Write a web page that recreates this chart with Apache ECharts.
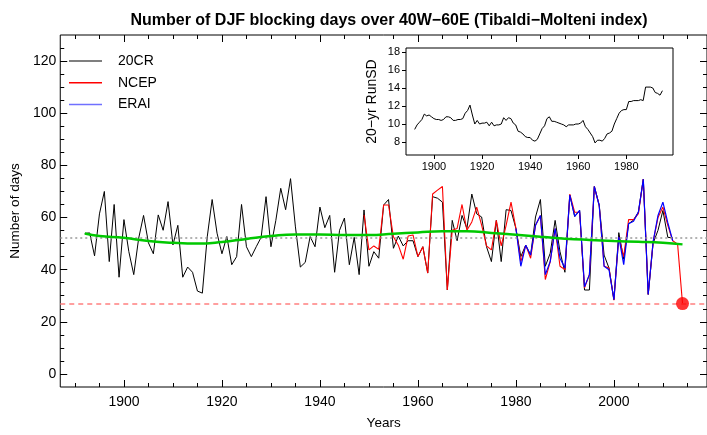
<!DOCTYPE html>
<html><head><meta charset="utf-8">
<script src="https://cdn.jsdelivr.net/npm/echarts@6/dist/echarts.min.js"></script>
<style>html,body{margin:0;padding:0;background:#fff}#c{width:707px;height:435px}</style>
</head><body><div id="c"></div>
<script>
// ---- data ----
const start20CR = 1892;
const v20CR = [
 53.9, 54.1, 45.3, 61.4, 70.0, 43.1, 65.0, 37.1, 59.2, 46.9,
 38.1, 52.0, 60.8, 50.3, 46.1, 61.0, 55.1, 66.1, 49.5, 57.0,
 37.1, 41.0, 39.0, 31.8, 31.0, 52.6, 66.9, 54.0, 46.1, 52.7,
 41.9, 45.0, 65.0, 48.8, 45.0, 48.8, 52.4, 68.0, 48.8, 58.9,
 71.2, 63.0, 74.9, 56.4, 41.0, 42.8, 52.7, 48.8, 64.0, 56.1,
 60.8, 39.0, 55.1, 59.8, 41.9, 52.4, 38.1, 62.9, 41.3, 46.9,
 44.4, 64.8, 66.9, 48.2, 52.9, 49.1, 51.1, 51.1, 45.0, 48.8,
 38.7, 68.0, 67.4, 65.9, 32.2, 58.9, 51.1, 60.8, 55.8, 69.0,
 61.4, 60.2, 48.8, 43.1, 58.9, 43.1, 63.0, 62.7, 55.8, 45.0,
 49.4, 45.6, 60.2, 66.9, 41.3, 46.3, 58.9, 46.9, 39.0, 68.6,
 60.4, 62.7, 32.2, 32.2, 71.9, 64.8, 45.6, 40.6, 28.5, 54.2,
 44.0, 57.6, 59.0, 62.1, 74.7, 30.5, 50.1, 55.1, 62.7, 52.4,
 52.2
];
const startNCEP = 1949;
const vNCEP = [
 61.0, 47.6, 49.1, 47.8, 64.8, 64.8, 52.6, 49.4, 44.0, 52.9,
 53.3, 45.0, 48.8, 38.7, 69.0, 70.5, 71.9, 32.2, 55.1, 55.8,
 65.0, 55.1, 58.3, 64.0, 57.1, 49.1, 47.6, 58.9, 49.1, 57.0,
 65.9, 55.8, 43.1, 49.4, 44.4, 57.0, 60.8, 36.2, 43.1, 55.8,
 41.3, 40.0, 69.0, 62.0, 62.0, 33.0, 38.1, 71.9, 64.6, 41.3,
 40.6, 28.3, 52.6, 45.0, 59.2, 59.2, 61.5, 74.7, 30.5, 50.7,
 60.0, 64.0, 57.0, 51.1, 49.8, 27.0
];
const startERAI = 1980;
const vERAI = [
 55.8, 41.3, 49.4, 45.6, 57.0, 60.8, 38.1, 43.1, 55.8, 44.4,
 40.6, 68.6, 60.4, 62.7, 33.4, 38.1, 71.9, 64.6, 41.3, 40.0,
 28.5, 52.6, 41.9, 57.6, 58.6, 62.1, 74.7, 30.5, 50.7, 60.8,
 65.9, 58.0, 51.1
];
const smoothYears = [1892,1895,1900,1905,1910,1915,1920,1925,1930,1935,1940,1945,1950,1955,1960,1965,1970,1975,1980,1985,1990,1995,2000,2005,2010,2014];
const smoothVals  = [53.9,52.9,52.2,51.0,50.3,50.0,50.6,51.8,52.9,53.5,53.5,53.3,53.3,53.8,54.3,54.7,54.7,54.1,53.4,52.6,51.9,51.4,51.0,50.7,50.3,49.7];
const insetStart = 1892;
const insetVals = [
 9.4, 9.9, 10.2, 10.5, 11.1, 10.9, 11.0, 10.8, 10.6, 10.5,
 10.5, 10.4, 10.5, 10.8, 10.8, 10.7, 10.4, 10.4, 10.5, 10.5,
 10.6, 11.2, 11.5, 12.1, 11.0, 10.0, 10.4, 10.0, 10.1, 10.1,
 10.2, 9.8, 10.2, 9.8, 9.9, 9.9, 10.0, 10.7, 10.4, 10.7,
 10.6, 10.1, 9.9, 9.2, 9.1, 8.9, 8.6, 8.5, 8.5, 8.2,
 8.1, 8.3, 8.9, 9.5, 9.8, 10.6, 10.8, 10.3, 10.3, 10.2,
 10.1, 10.0, 9.9, 9.7, 9.9, 9.9, 9.9, 10.0, 10.0, 10.1,
 10.4, 9.7, 9.4, 9.0, 8.6, 7.9, 8.2, 8.2, 8.1, 8.4,
 8.9, 9.0, 9.2, 10.0, 10.6, 11.2, 11.5, 11.6, 11.6, 12.5,
 12.5, 12.6, 12.6, 12.6, 12.7, 12.6, 14.1, 14.1, 14.1, 14.0,
 13.5, 13.4, 13.2, 13.7
];
const meanLevel = 52.3;
const lastPoint = [2014, 27];
const xMajor = [1900, 1920, 1940, 1960, 1980, 2000];
const xMinor = [1890,1895,1900,1905,1910,1915,1920,1925,1930,1935,1940,1945,1950,1955,1960,1965,1970,1975,1980,1985,1990,1995,2000,2005,2010,2015];
const yMajor = [0, 20, 40, 60, 80, 100, 120];
const yMinor = [0,5,10,15,20,25,30,35,40,45,50,55,60,65,70,75,80,85,90,95,100,105,110,115,120,125];
const insetXTicks = [1900, 1920, 1940, 1960, 1980];
const insetYTicks = [8, 10, 12, 14, 16, 18];

// ---- build ----
const pairs = (start, vals) => vals.map((v, i) => [start + i, v]);
const FONT = 'Liberation Sans, Arial, Helvetica, sans-serif';
const hiddenLine = { show: false, onZero: false };
const plain = v => String(v);

function xAx(pos, ticks, len, labels, extra) {
  return Object.assign({
    type: 'value', gridIndex: 0, position: pos, min: 1887, max: 2019,
    axisLine: hiddenLine, splitLine: { show: false },
    axisTick: { show: true, inside: true, length: len, customValues: ticks, lineStyle: { color: '#000', width: 1 } },
    axisLabel: labels ? { show: true, customValues: ticks, formatter: plain, fontSize: 14, color: '#000', fontFamily: FONT, margin: 8 } : { show: false }
  }, extra || {});
}
function yAx(pos, ticks, len, labels, extra) {
  return Object.assign({
    type: 'value', gridIndex: 0, position: pos, min: -5, max: 130,
    axisLine: hiddenLine, splitLine: { show: false },
    axisTick: { show: true, inside: true, length: len, customValues: ticks, lineStyle: { color: '#000', width: 1 } },
    axisLabel: labels ? { show: true, customValues: ticks, formatter: plain, fontSize: 14, color: '#000', fontFamily: FONT, margin: 4 } : { show: false }
  }, extra || {});
}

const option = {
  animation: false,
  backgroundColor: '#fff',
  textStyle: { fontFamily: FONT },
  title: {
    text: 'Number of DJF blocking days over 40W\u221260E (Tibaldi\u2212Molteni index)',
    left: 384, top: 8, textAlign: 'center',
    textStyle: { fontSize: 16, fontWeight: 'bold', color: '#000', fontFamily: FONT }
  },
  legend: {
    orient: 'vertical', left: 64, top: 49,
    icon: 'rect', itemWidth: 33, itemHeight: 1.5, itemGap: 7.7,
    textStyle: { fontSize: 14, color: '#000', fontFamily: FONT, padding: [0, 0, 0, 11], lineHeight: 14 },
    data: [
      { name: '20CR', itemStyle: { color: '#555' } },
      { name: 'NCEP', itemStyle: { color: '#ff0000' } },
      { name: 'ERAI', itemStyle: { color: '#7070ff' } }
    ],
    selectedMode: false
  },
  grid: [
    { left: 48, top: 35, width: 660, height: 357, show: true, borderColor: '#000', borderWidth: 1, backgroundColor: 'transparent' },
    { left: 406, top: 48, width: 267, height: 107, show: true, borderColor: '#000', borderWidth: 1, backgroundColor: '#fff', z: 5 }
  ],
  xAxis: [
    xAx('bottom', xMajor, 7, true, { name: 'Years', nameLocation: 'middle', nameGap: 29, nameTextStyle: { fontSize: 13.5, color: '#000', fontFamily: FONT } }),
    xAx('bottom', xMinor, 4, false),
    xAx('top', xMajor, 7, false),
    xAx('top', xMinor, 4, false),
    {
      type: 'value', gridIndex: 1, position: 'bottom', min: 1888.4, max: 1999.4,
      axisLine: hiddenLine, splitLine: { show: false },
      axisTick: { show: true, inside: false, length: 4, customValues: insetXTicks, lineStyle: { color: '#000' } },
      axisLabel: { show: true, customValues: insetXTicks, formatter: plain, fontSize: 11, color: '#000', fontFamily: FONT, margin: 6 }
    }
  ],
  yAxis: [
    yAx('left', yMajor, 7, true, { name: 'Number of days', nameLocation: 'middle', nameGap: 28, nameRotate: 90, nameTextStyle: { fontSize: 13.5, color: '#000', fontFamily: FONT } }),
    yAx('left', yMinor, 4, false),
    yAx('right', yMajor, 7, false),
    yAx('right', yMinor, 4, false),
    {
      type: 'value', gridIndex: 1, position: 'left', min: 6.56, max: 18.44,
      axisLine: hiddenLine, splitLine: { show: false },
      axisTick: { show: true, inside: false, length: 4, customValues: insetYTicks, lineStyle: { color: '#000' } },
      axisLabel: { show: true, customValues: insetYTicks, formatter: plain, fontSize: 11, color: '#000', fontFamily: FONT, margin: 6 },
      name: '20\u2212yr RunSD', nameLocation: 'middle', nameGap: 27, nameRotate: 90,
      nameTextStyle: { fontSize: 14, color: '#000', fontFamily: FONT }
    }
  ],
  series: [
    {
      name: '20CR', type: 'line', xAxisIndex: 0, yAxisIndex: 0, data: pairs(start20CR, v20CR),
      symbol: 'none', lineStyle: { color: '#000', width: 1 }, itemStyle: { color: '#000' }, z: 2,
      markLine: { silent: true, symbol: 'none', label: { show: false },
        lineStyle: { color: '#999', type: [2, 3], width: 1.5 }, data: [{ yAxis: meanLevel }] }
    },
    {
      name: 'NCEP', type: 'line', xAxisIndex: 0, yAxisIndex: 0, data: pairs(startNCEP, vNCEP),
      symbol: 'none', lineStyle: { color: '#ff0000', width: 1.1 }, itemStyle: { color: '#ff0000' }, z: 3,
      markLine: { silent: true, symbol: 'none', label: { show: false },
        lineStyle: { color: '#ff8080', type: [5, 4], width: 1.5 }, data: [{ yAxis: lastPoint[1] }] }
    },
    {
      name: 'ERAI', type: 'line', xAxisIndex: 0, yAxisIndex: 0, data: pairs(startERAI, vERAI),
      symbol: 'none', lineStyle: { color: '#0000ff', width: 1.2 }, itemStyle: { color: '#0000ff' }, z: 4
    },
    {
      name: 'trend', type: 'line', xAxisIndex: 0, yAxisIndex: 0,
      data: smoothYears.map((y, i) => [y, smoothVals[i]]), smooth: 0.5,
      symbol: 'none', lineStyle: { color: '#00c800', width: 2.5 }, z: 5
    },
    {
      name: 'last', type: 'scatter', xAxisIndex: 0, yAxisIndex: 0, data: [lastPoint],
      symbolSize: 13, itemStyle: { color: '#ff0000' }, z: 6
    },
    {
      name: 'RunSD', type: 'line', xAxisIndex: 4, yAxisIndex: 4, data: pairs(insetStart, insetVals),
      symbol: 'none', lineStyle: { color: '#000', width: 1 }, z: 6
    }
  ]
};
const chart = echarts.init(document.getElementById('c'), null, { renderer: 'canvas' });
chart.setOption(option);
</script></body></html>
